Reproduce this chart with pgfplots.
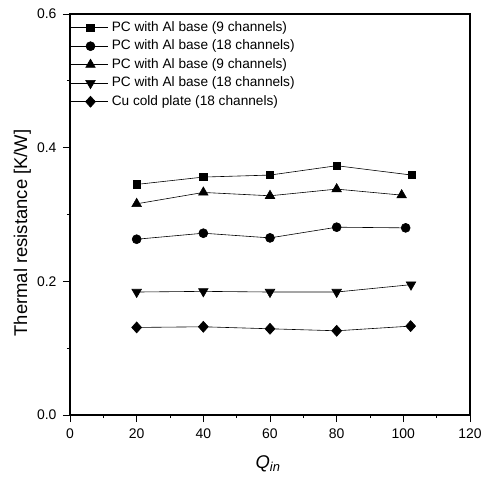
\documentclass[border=0pt]{standalone}
\usepackage{fontspec}
\setmainfont{Liberation Sans}
\usepackage{pgfplots}
\pgfplotsset{compat=1.18}

\newcommand{\ticksize}{\fontsize{14}{17}\selectfont}
\newcommand{\legsize}{\fontsize{13.7}{16}\selectfont}
\newcommand{\labsize}{\fontsize{18.5}{22}\selectfont}

\begin{document}
\begin{tikzpicture}
\begin{axis}[
  name=ax,
  scale only axis,
  width=400bp, height=401bp,
  xmin=0, xmax=120, ymin=0, ymax=0.6,
  xtick={0,20,...,120},
  ytick={0,0.2,0.4,0.6},
  minor xtick={10,30,...,110},
  minor ytick={0.1,0.3,0.5},
  tick align=outside,
  xtick pos=bottom, ytick pos=left,
  major tick length=7bp, minor tick length=3bp,
  tick style={black, line width=0.8bp},
  axis line style={line width=1.1bp},
  /pgf/number format/assume math mode=true,
  yticklabel style={/pgf/number format/fixed, /pgf/number format/fixed zerofill,
    /pgf/number format/precision=1, font=\ticksize, xshift=-3bp},
  xticklabel style={font=\ticksize, yshift=-3bp},
  scaled y ticks=false,
  xlabel={\textit{Q}\textsubscript{\textit{in}}},
  ylabel={Thermal resistance [K/W]},
  xlabel style={font=\labsize, at={(axis description cs:0.495,-0.0998)},
    anchor=north, inner sep=0pt},
  ylabel style={font=\labsize, at={(axis description cs:-0.119,0.454)},
    anchor=center, inner sep=0pt},
  every axis plot/.append style={black, line width=0.6bp},
  legend cell align=left,
  legend style={
    at={(rel axis cs:0,1)}, anchor=north west,
    xshift=0bp, yshift=-7bp,
    draw=none, fill=none, inner sep=0pt,
    font=\legsize,
    nodes={inner sep=0pt, text height=10bp, text depth=3bp},
    row sep=5.5bp,
  },
  legend image code/.code={%
    \draw[mark repeat=2, mark phase=2, #1]
      plot coordinates {(0bp,0bp) (20bp,0bp) (38bp,0bp)};
    \path (41bp,0bp);
  },
]
% 9-channel pin cooler, Al base
\addplot[mark=square*, mark size=3.7bp] coordinates {
  (20,0.345) (40,0.356) (60,0.359) (80,0.373) (102.5,0.359)};
\addlegendentry{PC with Al base (9 channels)}
% 18-channel pin cooler, Al base
\addplot[mark=*, mark size=4.5bp] coordinates {
  (20,0.263) (40,0.272) (60,0.265) (80,0.281) (100.7,0.280)};
\addlegendentry{PC with Al base (18 channels)}
\addplot[mark=triangle*, mark size=5.5bp] coordinates {
  (20,0.316) (40,0.333) (60,0.328) (80,0.338) (99.5,0.329)};
\addlegendentry{PC with Al base (9 channels)}
\addplot[mark=triangle*, mark size=5.5bp, mark options={rotate=180}] coordinates {
  (20,0.184) (40,0.185) (60,0.184) (80,0.184) (102.3,0.195)};
\addlegendentry{PC with Al base (18 channels)}
% copper reference plate
\addplot[mark=diamond*, mark size=5.5bp, mark options={xscale=1.2}] coordinates {
  (20,0.131) (40,0.132) (60,0.129) (80,0.126) (102.2,0.133)};
\addlegendentry{Cu cold plate (18 channels)}
\end{axis}
\path ([xshift=-70bp,yshift=-63bp]ax.south west) rectangle ([xshift=23bp,yshift=14bp]ax.north east);
\end{tikzpicture}
\end{document}
